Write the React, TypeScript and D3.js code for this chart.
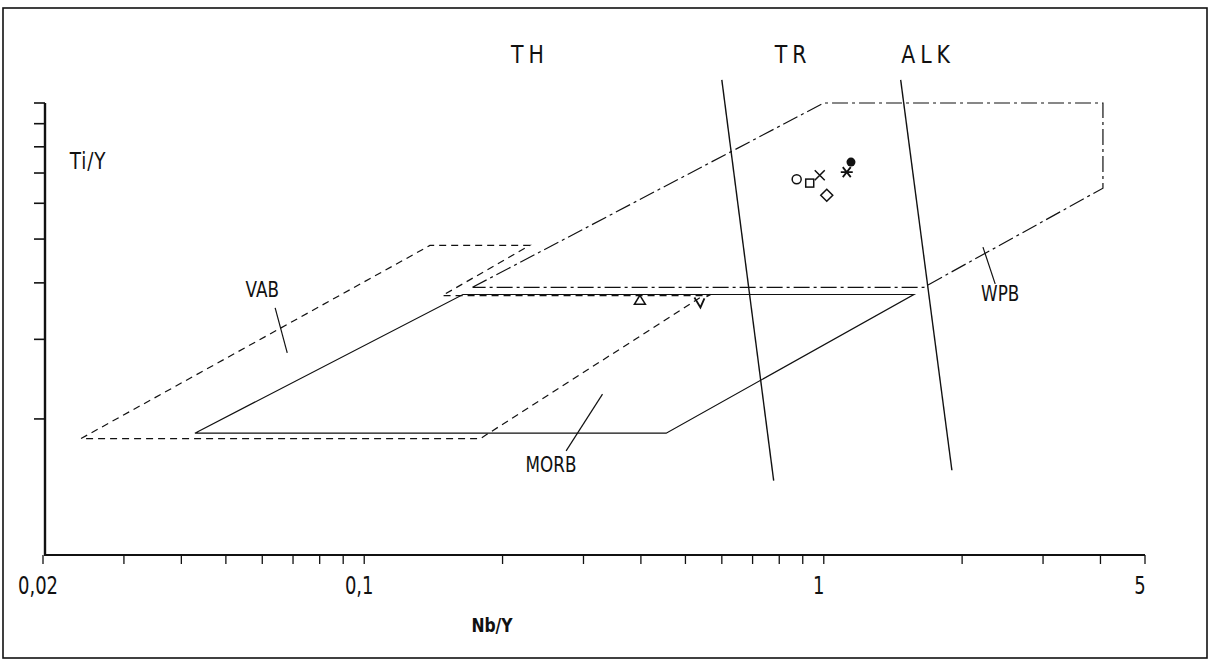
import * as d3 from "d3";
import React from "react";

// Nb/Y vs Ti/Y discrimination diagram (log-log)
const xDomain: [number, number] = [0.02, 5];
const yDomain: [number, number] = [100, 1000];

const xTicks = [
  0.02, 0.03, 0.04, 0.05, 0.06, 0.07, 0.08, 0.09, 0.1, 0.2, 0.3, 0.4, 0.5, 0.6,
  0.7, 0.8, 0.9, 1, 2, 3, 4, 5,
];
const xTickLabels: [number, string][] = [
  [0.02, "0,02"],
  [0.1, "0,1"],
  [1, "1"],
  [5, "5"],
];
const yTicks = [200, 300, 400, 500, 600, 700, 800, 900, 1000];

// fields: [Nb/Y, Ti/Y]
const vabField: [number, number][] = [
  [0.0242, 181],
  [0.139, 484],
  [0.229, 484],
  [0.148, 375],
  [0.547, 375],
  [0.179, 181],
];
const morbField: [number, number][] = [
  [0.0428, 186],
  [0.164, 377],
  [1.57, 377],
  [0.454, 186],
];
const wpbField: [number, number][] = [
  [0.172, 391],
  [1.0, 1000],
  [4.05, 1000],
  [4.05, 648],
  [1.65, 391],
];

// TH / TR / ALK boundaries
const thTrLine: [number, number][] = [
  [0.6, 1125],
  [0.778, 146],
];
const trAlkLine: [number, number][] = [
  [1.47, 1125],
  [1.9, 154],
];

// samples
const samples: { shape: string; nb: number; ti: number }[] = [
  { shape: "triangle", nb: 0.398, ti: 366 },
  { shape: "vee", nb: 0.539, ti: 362 },
  { shape: "circle", nb: 0.873, ti: 678 },
  { shape: "square", nb: 0.932, ti: 665 },
  { shape: "cross", nb: 0.98, ti: 692 },
  { shape: "diamond", nb: 1.015, ti: 625 },
  { shape: "dot", nb: 1.146, ti: 740 },
  { shape: "star", nb: 1.122, ti: 703 },
];

// field labels with leader lines (data coords)
const fieldLabels: { text: string; at: [number, number]; from: [number, number]; to: [number, number] }[] = [
  { text: "VAB", at: [0.06, 372], from: [0.064, 352], to: [0.068, 280] },
  { text: "MORB", at: [0.255, 153], from: [0.275, 170], to: [0.33, 227] },
  { text: "WPB", at: [2.42, 364], from: [2.36, 398], to: [2.22, 480] },
];

const W = 1211;
const H = 661;
const FONT = "'DejaVu Sans', sans-serif";

const Txt: React.FC<{ x: number; y: number; size: number; sx?: number; bold?: boolean; spacing?: number; children: string }> = ({
  x,
  y,
  size,
  sx = 0.8,
  bold,
  spacing = 0,
  children,
}) => (
  <text
    transform={`translate(${x},${y}) scale(${sx},1)`}
    fontSize={size}
    textAnchor="middle"
    fill="#111"
    fontWeight={bold ? "bold" : "normal"}
    letterSpacing={spacing}
  >
    {children}
  </text>
);

const App: React.FC = () => {
  const x = d3.scaleLog().domain(xDomain).range([43, 1145]);
  const y = d3.scaleLog().domain(yDomain).range([555, 103]);

  const line = d3
    .line<[number, number]>()
    .x((d) => x(d[0]))
    .y((d) => y(d[1]));
  const poly = (pts: [number, number][]) => line([...pts, pts[0]]) || "";

  const marker = (s: { shape: string; nb: number; ti: number }) => {
    const cx = x(s.nb);
    const cy = y(s.ti);
    const st = { fill: "none", stroke: "#111", strokeWidth: 1.5 };
    switch (s.shape) {
      case "triangle":
        return <path d={`M${cx},${cy - 5}L${cx + 5.5},${cy + 4}L${cx - 5.5},${cy + 4}Z`} {...st} />;
      case "vee":
        return (
          <path
            d={`M${cx - 6},${cy - 5}L${cx},${cy + 5}L${cx + 4},${cy - 4}M${cx + 6},${cy - 6}L${cx + 10},${cy - 8}`}
            {...st}
            strokeWidth={1.8}
          />
        );
      case "circle":
        return <circle cx={cx} cy={cy} r={4.5} {...st} />;
      case "square":
        return <rect x={cx - 4} y={cy - 4} width={8} height={8} {...st} />;
      case "cross":
        return <path d={`M${cx - 5},${cy - 5}L${cx + 5},${cy + 5}M${cx + 5},${cy - 5}L${cx - 5},${cy + 5}`} {...st} />;
      case "diamond":
        return <path d={`M${cx},${cy - 6}L${cx + 6},${cy}L${cx},${cy + 6}L${cx - 6},${cy}Z`} {...st} />;
      case "dot":
        return <circle cx={cx} cy={cy} r={4.5} fill="#111" />;
      case "star":
        return (
          <path
            d={`M${cx - 6},${cy}L${cx + 6},${cy}M${cx - 4},${cy - 5}L${cx + 4},${cy + 5}M${cx + 4},${cy - 5}L${cx - 4},${cy + 5}`}
            {...st}
            strokeWidth={1.8}
          />
        );
      default:
        return null;
    }
  };

  return (
    <div style={{ position: "absolute", left: 0, top: 0 }}>
      <svg width={W} height={H} style={{ display: "block", background: "#fff" }} fontFamily={FONT}>
        <rect x={3} y={8} width={1204} height={650} fill="none" stroke="#111" strokeWidth={1.6} />

        {/* axes */}
        <line x1={45} x2={45} y1={y(1000)} y2={y(100)} stroke="#111" strokeWidth={2.4} />
        <line x1={44} x2={x(5)} y1={y(100)} y2={y(100)} stroke="#111" strokeWidth={2.2} />
        {yTicks.map((t) => (
          <line key={t} x1={34} x2={45} y1={y(t)} y2={y(t)} stroke="#111" strokeWidth={1.6} />
        ))}
        {xTicks.map((t) => (
          <line key={t} x1={x(t)} x2={x(t)} y1={y(100)} y2={y(100) + 9} stroke="#111" strokeWidth={1.3} />
        ))}
        {xTickLabels.map(([v, s]) => (
          <Txt key={s} x={x(v) - 5} y={594} size={24} sx={0.75}>
            {s}
          </Txt>
        ))}
        <Txt x={492} y={632} size={20} sx={0.78} bold>
          Nb/Y
        </Txt>
        <Txt x={88} y={169} size={23} sx={0.8} spacing={1}>
          Ti/Y
        </Txt>

        {/* series labels */}
        <Txt x={530} y={63} size={25} sx={0.82} spacing={6}>TH</Txt>
        <Txt x={793} y={63} size={25} sx={0.82} spacing={6}>TR</Txt>
        <Txt x={928} y={63} size={25} sx={0.82} spacing={6}>ALK</Txt>

        {/* fields */}
        <path d={poly(vabField)} fill="none" stroke="#111" strokeWidth={1.2} strokeDasharray="7,5" />
        <path d={poly(morbField)} fill="none" stroke="#111" strokeWidth={1.2} />
        <path d={poly(wpbField)} fill="none" stroke="#111" strokeWidth={1.2} strokeDasharray="16,4,3,4" />

        <path d={line(thTrLine) || ""} fill="none" stroke="#111" strokeWidth={1.4} />
        <path d={line(trAlkLine) || ""} fill="none" stroke="#111" strokeWidth={1.4} />

        {fieldLabels.map((f) => (
          <g key={f.text}>
            <line x1={x(f.from[0])} y1={y(f.from[1])} x2={x(f.to[0])} y2={y(f.to[1])} stroke="#111" strokeWidth={1.2} />
            <Txt x={x(f.at[0])} y={y(f.at[1])} size={21} sx={0.8}>
              {f.text}
            </Txt>
          </g>
        ))}

        {samples.map((s, i) => (
          <g key={i}>{marker(s)}</g>
        ))}
      </svg>
    </div>
  );
};

export default App;
